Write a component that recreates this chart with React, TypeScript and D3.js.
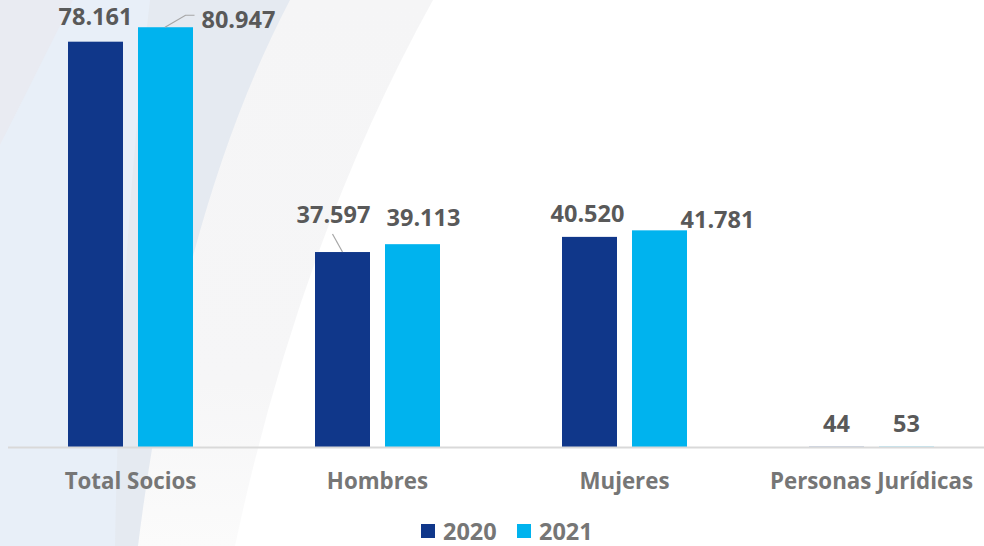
import React, { useRef, useEffect } from "react";
import * as d3 from "d3";

const categories = ["Total Socios", "Hombres", "Mujeres", "Personas Jurídicas"];
const years = ["2020", "2021"];
const values2020 = [78161, 37597, 40520, 44];
const values2021 = [80947, 39113, 41781, 53];
const labels2020 = ["78.161", "37.597", "40.520", "44"];
const labels2021 = ["80.947", "39.113", "41.781", "53"];

const COLORS: Record<string, string> = { "2020": "#10378a", "2021": "#00b3ee" };

// manual label nudges (Excel-style moved labels): [dx from bar centre, dy from bar top, anchor]
const nudge2020: [number, number, string][] = [
  [0, -17, "middle"],
  [-9, -29, "middle"],
  [-2, -15, "middle"],
  [0, -15, "middle"],
];
const nudge2021: [number, number, string][] = [
  [36, 1, "start"],
  [11, -18, "middle"],
  [58, -2, "middle"],
  [0, -15, "middle"],
];

const W = 984;
const H = 546;

export default function App() {
  const ref = useRef<SVGSVGElement | null>(null);

  useEffect(() => {
    const svg = d3.select(ref.current);
    svg.selectAll("*").remove();

    const baseY = 447;
    const x = d3.scaleBand().domain(categories).range([7, 995]).padding(0);
    const xi = d3.scaleBand().domain(years).range([0, 125]).paddingInner(0.2143);
    const groupOff = (x.bandwidth() - 125) / 2;
    const y = d3.scaleLinear().domain([0, 86200]).range([baseY, 0]);

    // background swooshes
    const bg = svg.append("g");
    bg.append("rect").attr("width", W).attr("height", H).attr("fill", "#ffffff");
    const grad = svg.append("defs").append("linearGradient").attr("id", "fadeG")
      .attr("x1", "0").attr("x2", "0").attr("y1", "0").attr("y2", "1");
    grad.append("stop").attr("offset", "0%").attr("stop-color", "#f5f5f6");
    grad.append("stop").attr("offset", "70%").attr("stop-color", "#f6f6f7");
    grad.append("stop").attr("offset", "100%").attr("stop-color", "#fbfbfb");
    bg.append("path").attr("d", "M0,0 L433,0 Q300,240 235,546 L0,546 Z").attr("fill", "url(#fadeG)");
    bg.append("path").attr("d", "M0,0 L290,0 Q180,210 138,546 L0,546 Z").attr("fill", "#e5eaf1");
    bg.append("path").attr("d", "M0,0 L150,0 Q120,250 115,546 L0,546 Z").attr("fill", "#e8eff8");
    bg.append("path").attr("d", "M0,0 L73,0 L0,145 Z").attr("fill", "#e9ebf2");

    const rows = categories.map((c, i) => [
      { cat: c, year: "2020", v: values2020[i], label: labels2020[i], n: nudge2020[i] },
      { cat: c, year: "2021", v: values2021[i], label: labels2021[i], n: nudge2021[i] },
    ]).flat();

    svg.append("g").selectAll("rect").data(rows).enter().append("rect")
      .attr("x", (d) => (x(d.cat) as number) + groupOff + (xi(d.year) as number))
      .attr("y", (d) => y(d.v))
      .attr("width", xi.bandwidth())
      .attr("height", (d) => baseY - y(d.v))
      .attr("fill", (d) => COLORS[d.year]);

    // axis line
    svg.append("line")
      .attr("x1", 8).attr("x2", W)
      .attr("y1", baseY + 0.5).attr("y2", baseY + 0.5)
      .attr("stroke", "#d9d9d9").attr("stroke-width", 2);

    const cx = (d: any) => (x(d.cat) as number) + groupOff + (xi(d.year) as number) + xi.bandwidth() / 2;

    // leader lines for moved labels
    const lead = svg.append("g").attr("fill", "none").attr("stroke", "#a6a6a6").attr("stroke-width", 1.2);
    const t0 = rows[1];
    lead.append("polyline").attr("points",
      `${cx(t0) - 0.5},${y(t0.v)} ${cx(t0) + 20},${y(t0.v) - 12} ${cx(t0) + 29},${y(t0.v) - 12}`);
    const h0 = rows[2];
    lead.append("line")
      .attr("x1", cx(h0)).attr("y1", y(h0.v))
      .attr("x2", cx(h0) - 10).attr("y2", y(h0.v) - 18);

    svg.append("g").selectAll("text").data(rows).enter().append("text")
      .attr("x", (d) => cx(d) + d.n[0])
      .attr("y", (d) => y(d.v) + d.n[1])
      .attr("text-anchor", (d) => d.n[2])
      .attr("font-family", "'Open Sans', sans-serif")
      .attr("font-weight", "bold")
      .attr("font-size", 23.5)
      .attr("fill", "#595959")
      .text((d) => d.label);

    svg.append("g").selectAll("text").data(categories).enter().append("text")
      .attr("x", (d) => (x(d) as number) + x.bandwidth() / 2)
      .attr("y", 489)
      .attr("text-anchor", "middle")
      .attr("font-family", "'Open Sans', sans-serif")
      .attr("font-weight", "bold")
      .attr("font-size", 22.3)
      .attr("fill", "#767676")
      .text((d) => d);

    // legend
    const leg = svg.append("g").attr("transform", "translate(421,524)");
    years.forEach((yr, i) => {
      const g = leg.append("g").attr("transform", `translate(${i * 96},0)`);
      g.append("rect").attr("width", 14).attr("height", 14).attr("fill", COLORS[yr]);
      g.append("text")
        .attr("x", 22).attr("y", 15.5)
        .attr("font-family", "'Open Sans', sans-serif")
        .attr("font-weight", "bold")
        .attr("font-size", 23.5)
        .attr("fill", "#767676")
        .text(yr);
    });
  }, []);

  return (
    <svg ref={ref} width={W} height={H}
      style={{ position: "absolute", left: 0, top: 0, display: "block" }} />
  );
}
